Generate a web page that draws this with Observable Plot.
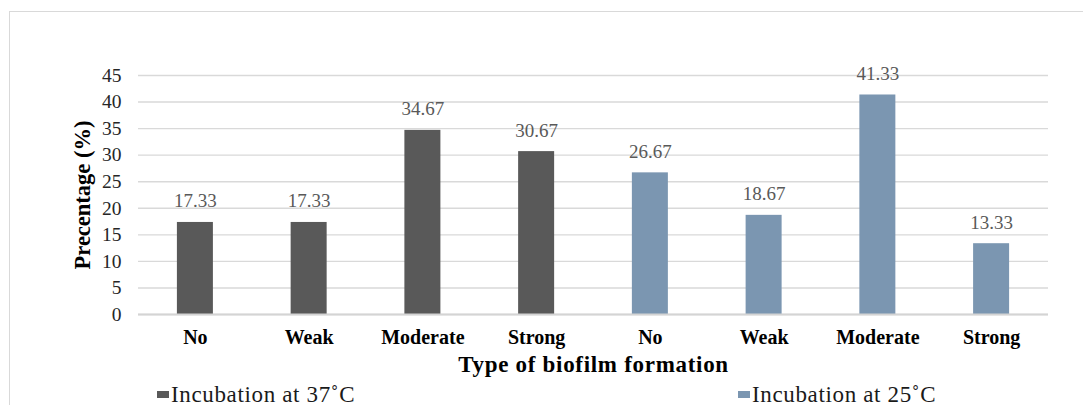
<!DOCTYPE html>
<html><head><meta charset="utf-8">
<script src="https://cdn.jsdelivr.net/npm/d3@7"></script>
<script src="https://cdn.jsdelivr.net/npm/@observablehq/plot@0.6"></script>
<style>
body{margin:0;background:#fff;width:1083px;height:405px;overflow:hidden;position:relative;font-family:'Liberation Serif',serif;}
#frame{position:absolute;left:9px;top:11px;width:1200px;height:500px;border-left:1.5px solid #d9d9d9;border-top:1.5px solid #d9d9d9;}
#chart{position:absolute;left:0;top:0;}
.leg{position:absolute;top:382px;font-family:'Liberation Serif',serif;font-size:23px;letter-spacing:0.65px;color:#1a1a1a;white-space:nowrap;line-height:normal;}
.leg span{display:inline-block;width:12px;height:7px;margin-right:2px;vertical-align:0.18em;}
</style></head><body>
<div id="frame"></div>
<div id="chart"></div>
<div class="leg" id="leg0" style="left:157px"></div>
<div class="leg" id="leg1" style="left:738px"></div>
<script>
const categories = ["No", "Weak", "Moderate", "Strong"];
const groups = ["Incubation at 37˚C", "Incubation at 25˚C"];
const values37 = [17.33, 17.33, 34.67, 30.67];
const values25 = [26.67, 18.67, 41.33, 13.33];
const yTicks = [0, 5, 10, 15, 20, 25, 30, 35, 40, 45];
const colors = ["#595959", "#7B96B1"];
const yTitle = "Precentage (%)";
const xTitle = "Type of biofilm formation";
const FONT = "'Liberation Serif', serif";

const seriesValues = [values37, values25];
const rows = groups.flatMap((g, gi) => categories.map((c, i) => ({
  key: gi + "|" + c, cat: c, group: g, value: seriesValues[gi][i]
})));

const chart = Plot.plot({
  width: 1083, height: 380,
  marginLeft: 138, marginRight: 35, marginTop: 75, marginBottom: 66,
  style: {fontFamily: FONT, background: "transparent", color: "#000"},
  x: {domain: rows.map(d => d.key), paddingInner: 0.6835, paddingOuter: 0.342, round: false},
  y: {domain: [0, 45]},
  color: {domain: groups, range: colors},
  marks: [
    Plot.gridY(yTicks, {stroke: "#d9d9d9", strokeOpacity: 1, strokeWidth: 1.4}),
    Plot.barY(rows, {x: "key", y: "value", fill: "group"}),
    Plot.ruleY([0], {stroke: "#d4d4d4", strokeWidth: 2}),
    Plot.text(rows, {x: "key", y: "value", text: d => d.value.toFixed(2), lineAnchor: "bottom", dy: -15, fontSize: 19, fill: "#595959"}),
    Plot.axisY(yTicks, {tickSize: 0, tickPadding: 17, fontSize: 19.5, label: null, fill: "#262626"}),
    Plot.axisX({tickSize: 0, tickPadding: 15, fontSize: 20, fontWeight: "bold", label: null, fill: "#000", tickFormat: k => k.split("|")[1]}),
    Plot.text([yTitle], {text: d => d, frameAnchor: "left", textAnchor: "middle", rotate: -90, dx: -56, fontSize: 22.5, fontWeight: "bold", fill: "#000"}),
    Plot.text([xTitle], {text: d => d, frameAnchor: "bottom", textAnchor: "middle", dy: 57, fontSize: 23, fontWeight: "bold", fill: "#000", className: "xtitle"})
  ]
});
chart.querySelectorAll(".xtitle text").forEach(el => el.style.letterSpacing = "0.7px");
document.getElementById("chart").appendChild(chart);

groups.forEach((g, i) => {
  const el = document.getElementById("leg" + i);
  const sw = document.createElement("span");
  sw.style.background = colors[i];
  el.appendChild(sw);
  el.appendChild(document.createTextNode(g));
});
</script>
</body></html>
